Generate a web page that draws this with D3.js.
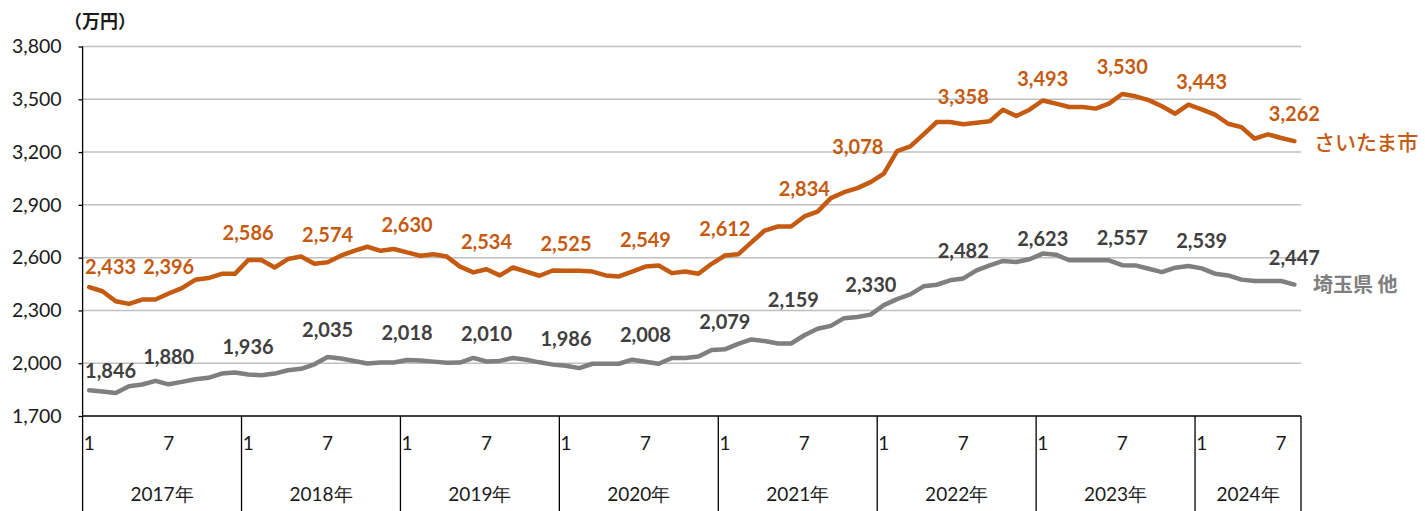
<!DOCTYPE html>
<html><head><meta charset="utf-8">
<script src="https://cdn.jsdelivr.net/npm/d3@7"></script>
<style>
html,body{margin:0;padding:0;background:#fff;}
svg{display:block;}
</style></head>
<body>
<svg id="chart" width="1425" height="511"></svg>
<script>
const years = ["2017年","2018年","2019年","2020年","2021年","2022年","2023年","2024年"];
const monthsPerYear = [12,12,12,12,12,12,12,8];
const yTicks = [1700,2000,2300,2600,2900,3200,3500,3800];
const unitLabel = "（万円）";
const seriesNames = ["さいたま市","埼玉県 他"];
const saitama = [
 2433,2409,2352,2337,2362,2362,2396,2427,2474,2484,2508,2508,
 2586,2587,2544,2592,2606,2565,2574,2611,2639,2662,2639,2649,
 2630,2611,2619,2606,2549,2516,2534,2499,2544,2521,2497,2527,
 2525,2525,2521,2499,2493,2521,2549,2555,2512,2521,2508,2565,
 2612,2619,2687,2754,2777,2777,2834,2862,2938,2972,2995,3029,
 3078,3206,3232,3301,3371,3371,3358,3367,3375,3441,3405,3441,
 3493,3475,3456,3456,3447,3475,3530,3517,3495,3460,3418,3470,
 3443,3413,3361,3342,3276,3301,3280,3262];
const others = [
 1846,1839,1831,1869,1879,1900,1880,1894,1909,1917,1941,1947,
 1936,1932,1941,1960,1968,1994,2035,2027,2013,1998,2004,2004,
 2018,2015,2009,2002,2004,2030,2010,2013,2030,2020,2005,1992,
 1986,1972,1997,1997,1997,2020,2008,1997,2030,2030,2038,2075,
 2079,2110,2135,2126,2112,2112,2159,2196,2212,2256,2263,2276,
 2330,2364,2391,2437,2446,2471,2482,2528,2556,2581,2575,2591,
 2623,2617,2585,2585,2585,2585,2557,2556,2537,2518,2543,2553,
 2539,2509,2499,2475,2467,2467,2467,2447];
const labelIdx = [0,6,12,18,24,30,36,42,48,54,60,66,72,78,84,91];

(function(){
const monthNums = [];
monthsPerYear.forEach(n => { for (let m=1; m<=n; m++) monthNums.push(m); });
const N = monthNums.length;

const svg = d3.select("#chart");
const pLeft = 82.6, pRight = 1301, pTop = 46.5, pBottom = 416;
const x = d3.scaleBand().domain(d3.range(N)).range([pLeft, pRight]).padding(0);
const cx = i => x(i) + x.bandwidth()/2;
const y = d3.scaleLinear().domain([1700,3800]).range([pBottom, pTop]);

const ORANGE = "#c55a11", GRAY = "#7f7f7f", DARK = "#404040";
const numFont = "Lato, 'Noto Sans', sans-serif";
const jpFont = "'Noto Sans CJK JP', 'Noto Sans', sans-serif";

svg.append("g").selectAll("line").data(yTicks.filter(t=>t>1700)).join("line")
  .attr("x1", pLeft).attr("x2", pRight)
  .attr("y1", d=>y(d)).attr("y2", d=>y(d))
  .attr("stroke", "#bfbfbf").attr("stroke-width", 1.5);

const yAxis = svg.append("g").attr("transform", `translate(${pLeft},0)`)
  .call(d3.axisLeft(y).tickValues(yTicks).tickSize(4).tickPadding(17).tickFormat(d3.format(",")));
yAxis.select(".domain").remove();
yAxis.selectAll(".tick line").attr("stroke", "#000").attr("stroke-width", 1.3);
yAxis.selectAll(".tick text").attr("font-family", numFont).attr("font-size", 19.5).attr("fill", "#1a1a1a");
svg.append("line").attr("x1", pLeft).attr("x2", pLeft).attr("y1", pTop).attr("y2", 511)
  .attr("stroke", "#000").attr("stroke-width", 1.3);
svg.append("line").attr("x1", pLeft).attr("x2", pRight).attr("y1", pBottom).attr("y2", pBottom)
  .attr("stroke", "#000").attr("stroke-width", 1.3);

svg.append("text").attr("x", 64).attr("y", 28).text(unitLabel)
  .attr("font-family", jpFont).attr("font-weight", "bold").attr("font-size", 18).attr("fill", "#1a1a1a");

const xAxis = svg.append("g").attr("transform", `translate(0,${pBottom})`)
  .call(d3.axisBottom(x).tickSize(0).tickPadding(21)
    .tickValues(d3.range(N).filter(i => monthNums[i]===1 || monthNums[i]===7))
    .tickFormat(i => monthNums[i]));
xAxis.select(".domain").remove();
xAxis.selectAll(".tick text").attr("font-family", numFont).attr("font-size", 19).attr("fill", "#1a1a1a");

let acc = 0;
const yearInfo = years.map((yr, k) => { const s = acc; acc += monthsPerYear[k]; return {yr, s, e: acc}; });
const bx = i => i >= N ? pRight : x(i);
svg.append("g").selectAll("line").data(yearInfo.map(d=>d.e)).join("line")
  .attr("x1", d=>bx(d)).attr("x2", d=>bx(d)).attr("y1", pBottom).attr("y2", 511)
  .attr("stroke", "#000").attr("stroke-width", 1.3);
svg.append("g").selectAll("text").data(yearInfo).join("text")
  .attr("x", d => (bx(d.s)+bx(d.e))/2).attr("y", 501)
  .attr("text-anchor", "middle").text(d=>d.yr)
  .attr("font-family", numFont).attr("font-size", 19).attr("fill", "#1a1a1a");

const line = d3.line().x((d,i)=>cx(i)).y(d=>y(d));
svg.append("path").datum(others).attr("d", line).attr("fill","none")
  .attr("stroke", GRAY).attr("stroke-width", 4.5).attr("stroke-linejoin","round").attr("stroke-linecap","round");
svg.append("path").datum(saitama).attr("d", line).attr("fill","none")
  .attr("stroke", ORANGE).attr("stroke-width", 4.5).attr("stroke-linejoin","round").attr("stroke-linecap","round");

const nudge = {
  "o60": [-26, 0], "o0": [0, 7], "o72": [0, 5],
  "g54": [-11, -8], "g60": [-13, 7], "g0": [0, 8], "g72": [0, 12]
};
function addLabels(vals, color, key) {
  svg.append("g").selectAll("text").data(labelIdx).join("text")
    .attr("x", i => { const n = nudge[key+i] || [0,0]; return Math.max(pLeft + 28, cx(i) + n[0]); })
    .attr("y", i => { const n = nudge[key+i] || [0,0]; return y(vals[i]) - 28 + n[1]; })
    .attr("dominant-baseline", "central").attr("text-anchor", "middle")
    .text(i => d3.format(",")(vals[i]))
    .attr("font-family", numFont).attr("font-weight", "bold").attr("font-size", 20).attr("fill", color);
}
addLabels(saitama, ORANGE, "o");
addLabels(others, DARK, "g");

svg.append("text").attr("x", pRight + 13).attr("y", y(saitama[N-1]))
  .attr("dominant-baseline","central").text(seriesNames[0])
  .attr("font-family", jpFont).attr("font-weight", 500).attr("font-size", 21).attr("fill", ORANGE);
svg.append("text").attr("x", pRight + 12).attr("y", y(others[N-1]) - 1)
  .attr("dominant-baseline","central").text(seriesNames[1])
  .attr("font-family", jpFont).attr("font-weight","bold").attr("font-size", 20).attr("fill", GRAY);
})();
</script>
</body></html>
